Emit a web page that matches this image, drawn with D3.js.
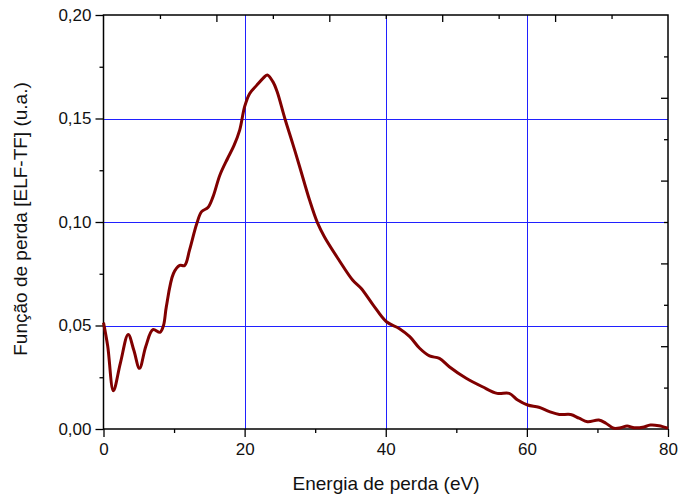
<!DOCTYPE html>
<html><head><meta charset="utf-8">
<script src="https://cdn.jsdelivr.net/npm/d3@7"></script>
<style>body{margin:0;background:#fff}svg{display:block}text{font-family:"Liberation Sans",Arial,sans-serif}</style>
</head><body>
<svg id="c" width="678" height="497"></svg>
<script>
const energy = [0, 0.6, 1.4, 2.4, 3.5, 4.3, 5.1, 6.0, 7.0, 8.0, 8.5, 8.9, 9.9, 10.8, 11.5, 12.2, 13.2, 13.9, 14.8, 15.5, 16.5, 17.6, 18.5, 19.3, 20.0, 20.7, 21.7, 22.6, 23.2, 24.0, 24.6, 25.7, 26.8, 27.8, 29.2, 30.3, 31.3, 33.3, 35.3, 36.5, 38.2, 40.1, 41.9, 43.4, 44.8, 46.2, 47.6, 49.0, 51.4, 53.7, 55.8, 57.5, 58.7, 60.1, 61.7, 63.2, 64.6, 66.2, 67.4, 68.6, 70.2, 71.2, 72.3, 73.3, 74.2, 75.2, 76.4, 77.5, 78.7, 80.0];
const elf = [0.0514, 0.040, 0.0185, 0.032, 0.0457, 0.038, 0.0293, 0.040, 0.048, 0.0467, 0.050, 0.059, 0.075, 0.079, 0.079, 0.0865, 0.099, 0.105, 0.107, 0.112, 0.1227, 0.1308, 0.137, 0.1444, 0.1557, 0.162, 0.166, 0.1694, 0.171, 0.1678, 0.163, 0.150, 0.138, 0.1267, 0.1106, 0.0998, 0.0929, 0.082, 0.072, 0.068, 0.060, 0.0518, 0.0486, 0.0446, 0.039, 0.0353, 0.0341, 0.0301, 0.0245, 0.0204, 0.0172, 0.0172, 0.014, 0.0116, 0.0105, 0.0084, 0.007, 0.0070, 0.0052, 0.0035, 0.0043, 0.0028, 0.0004, 0.0006, 0.0014, 0.0006, 0.0008, 0.0019, 0.0016, 0.0004];
const xTicks = [0, 20, 40, 60, 80];
const xMinor = [10, 30, 50, 70];
const xTopTicks = [16, 32, 48, 64];
const xTopMinor = [8, 24, 40, 56, 72];
const yTicks = [0, 0.05, 0.10, 0.15, 0.20];
const yMinor = [0.025, 0.075, 0.125, 0.175];
const yRightTicks = [0.04, 0.08, 0.12, 0.16];
const yRightMinor = [0.02, 0.06, 0.10, 0.14, 0.18];
const xGrid = [20, 40, 60];
const yGrid = [0.05, 0.10, 0.15];
const xTitle = "Energia de perda (eV)";
const yTitle = "Função de perda [ELF-TF] (u.a.)";

const L = 103.5, R = 668, T = 15, B = 429;
const svg = d3.select("#c");
const x = d3.scaleLinear().domain([0, 80]).range([L, R]);
const y = d3.scaleLinear().domain([0, 0.20]).range([B, T]);
const fmt = d => d3.format(".2f")(d).replace(".", ",");

// grid
svg.append("g").selectAll("line").data(xGrid).join("line")
  .attr("x1", d => Math.round(x(d)) + 0.5).attr("x2", d => Math.round(x(d)) + 0.5)
  .attr("y1", T).attr("y2", B).attr("stroke", "#2020ff").attr("stroke-width", 1);
svg.append("g").selectAll("line").data(yGrid).join("line")
  .attr("y1", d => Math.round(y(d)) + 0.5).attr("y2", d => Math.round(y(d)) + 0.5)
  .attr("x1", L).attr("x2", R).attr("stroke", "#2020ff").attr("stroke-width", 1);

// axes
const ax = (g, axis) => { g.call(axis); g.select(".domain").remove(); g.selectAll("line").attr("stroke", "#000").attr("stroke-width", 1.3); g.selectAll("text").attr("font-size", 17).attr("fill", "#111"); };
svg.append("g").attr("transform", `translate(0,${B})`).call(g => ax(g, d3.axisBottom(x).tickValues(xTicks).tickSize(8).tickPadding(6).tickFormat(d3.format("d"))));
svg.append("g").attr("transform", `translate(0,${B})`).call(g => ax(g, d3.axisBottom(x).tickValues(xMinor).tickSize(4).tickFormat("")));
svg.append("g").attr("transform", `translate(${L},0)`).call(g => ax(g, d3.axisLeft(y).tickValues(yTicks).tickSize(8).tickPadding(4).tickFormat(fmt)));
svg.append("g").attr("transform", `translate(${L},0)`).call(g => ax(g, d3.axisLeft(y).tickValues(yMinor).tickSize(4).tickFormat("")));
svg.append("g").attr("transform", `translate(0,${T})`).call(g => ax(g, d3.axisBottom(x).tickValues(xTopTicks).tickSize(7).tickFormat("")));
svg.append("g").attr("transform", `translate(0,${T})`).call(g => ax(g, d3.axisBottom(x).tickValues(xTopMinor).tickSize(4).tickFormat("")));
svg.append("g").attr("transform", `translate(${R},0)`).call(g => ax(g, d3.axisLeft(y).tickValues(yRightTicks).tickSize(7).tickFormat("")));
svg.append("g").attr("transform", `translate(${R},0)`).call(g => ax(g, d3.axisLeft(y).tickValues(yRightMinor).tickSize(4).tickFormat("")));

// frame
svg.append("rect").attr("x", L).attr("y", T).attr("width", R - L).attr("height", B - T)
  .attr("fill", "none").attr("stroke", "#000").attr("stroke-width", 1.5);

// curve
const data = energy.map((e, i) => [e, elf[i]]);
svg.append("path").datum(data)
  .attr("d", d3.line().x(d => x(d[0])).y(d => y(d[1])).curve(d3.curveCatmullRom.alpha(0.5)))
  .attr("fill", "none").attr("stroke", "#800000").attr("stroke-width", 3).attr("stroke-linejoin", "round");

// titles
svg.append("text").attr("x", 386).attr("y", 490).attr("text-anchor", "middle")
  .attr("font-size", 19).attr("fill", "#111").text(xTitle);
svg.append("text").attr("transform", `translate(27,${(T + B) / 2 - 3}) rotate(-90)`).attr("text-anchor", "middle")
  .attr("font-size", 19).attr("fill", "#111").text(yTitle);
</script>
</body></html>
